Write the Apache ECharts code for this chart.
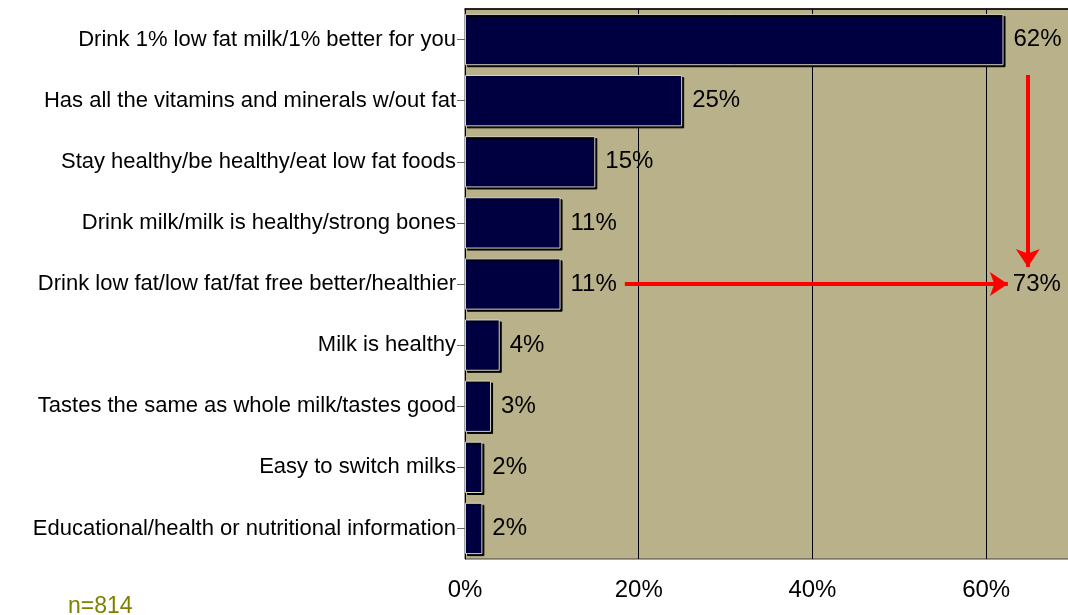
<!DOCTYPE html>
<html>
<head>
<meta charset="utf-8">
<script src="https://cdn.jsdelivr.net/npm/echarts@6/dist/echarts.min.js"></script>
<style>
html,body{margin:0;padding:0;background:#fff;}
#chart{width:1068px;height:615px;}
</style>
</head>
<body>
<div id="chart"></div>
<script>
const categories = [
  'Drink 1% low fat milk/1% better for you',
  'Has all the vitamins and minerals w/out fat',
  'Stay healthy/be healthy/eat low fat foods',
  'Drink milk/milk is healthy/strong bones',
  'Drink low fat/low fat/fat free better/healthier',
  'Milk is healthy',
  'Tastes the same as whole milk/tastes good',
  'Easy to switch milks',
  'Educational/health or nutritional information'
];
const values = [62, 25, 15, 11, 11, 4, 3, 2, 2];
const tickValues = [0, 20, 40, 60];
const combinedShare = 73;
const sampleNote = 'n=814';
// arrow annotation endpoints in data units: [x %, category position]
const downArrow = [[64.8, 1.08], [64.8, 4.22]];
const rightArrow = [[18.4, 4.5], [62.5, 4.5]];

const FONT = '"Liberation Sans", Arial, sans-serif';
const chart = echarts.init(document.getElementById('chart'), null, {renderer: 'canvas'});
chart.setOption({
  animation: false,
  backgroundColor: '#ffffff',
  title: {
    text: sampleNote,
    left: 63, top: 590,
    textStyle: {color: '#808000', fontSize: 23, fontWeight: 'normal', fontFamily: FONT}
  },
  grid: {
    left: 465, top: 9, right: -5, bottom: 56,
    outerBoundsMode: 'none',
    show: true, backgroundColor: '#b9b189',
    borderColor: '#404040', borderWidth: 1,
    containLabel: false
  },
  xAxis: {
    type: 'value', min: 0, max: 70, interval: 20,
    axisLine: {show: true, lineStyle: {color: '#000', width: 1.5}},
    axisTick: {show: true, length: 8, lineStyle: {color: '#000'}},
    splitLine: {show: true, lineStyle: {color: '#000', width: 1}},
    axisLabel: {
      margin: 19, fontSize: 24, color: '#000', fontFamily: FONT,
      formatter: v => tickValues.indexOf(v) >= 0 ? v + '%' : ''
    }
  },
  yAxis: [{
    type: 'category', data: categories, inverse: true,
    axisLine: {show: true, lineStyle: {color: '#000', width: 1}},
    axisTick: {show: true, alignWithLabel: true, length: 8, lineStyle: {color: '#666'}},
    axisLabel: {margin: 9, fontSize: 22, color: '#000', fontFamily: FONT},
    splitLine: {show: false}
  }, {
    type: 'value', min: 0, max: 9, inverse: true, show: false
  }],
  series: [{
    type: 'bar',
    data: values,
    barCategoryGap: '16%',
    itemStyle: {
      color: '#000040',
      borderColor: '#d8d4bc', borderWidth: 1,
      shadowColor: '#000', shadowOffsetX: 2, shadowOffsetY: 2, shadowBlur: 0
    },
    label: {
      show: true, position: 'right', distance: 10,
      fontSize: 24, color: '#000', fontFamily: FONT,
      formatter: p => p.value + '%'
    },
    z: 3
  }, {
    type: 'lines',
    coordinateSystem: 'cartesian2d',
    xAxisIndex: 0, yAxisIndex: 1,
    symbol: ['none', 'arrow'],
    symbolSize: 18,
    lineStyle: {color: '#ff0000', width: 4, opacity: 1, curveness: 0},
    z: 4,
    data: [
      {coords: downArrow},
      {coords: rightArrow,
       label: {show: true, position: 'end', distance: 5, formatter: combinedShare + '%',
               fontSize: 24, color: '#000', fontFamily: FONT}}
    ]
  }]
});
</script>
</body>
</html>
